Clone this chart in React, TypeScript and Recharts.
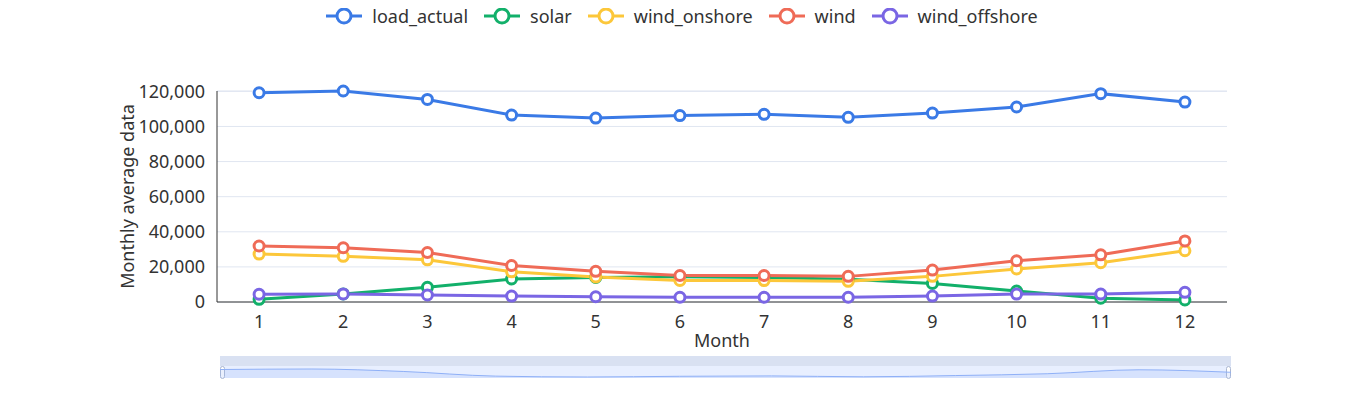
import {
  LineChart,
  Line,
  XAxis,
  YAxis,
  CartesianGrid,
  Legend,
  Brush,
  AreaChart,
  Area,
} from 'recharts'

const MONTHS = [1, 2, 3, 4, 5, 6, 7, 8, 9, 10, 11, 12]
const MONTH_EDGES = [0.5, 1.5, 2.5, 3.5, 4.5, 5.5, 6.5, 7.5, 8.5, 9.5, 10.5, 11.5, 12.5]
const Y_TICKS = [0, 20000, 40000, 60000, 80000, 100000, 120000]

const LOAD_ACTUAL = [119200, 120200, 115400, 106500, 104800, 106200, 106900, 105200, 107600, 111100, 118700, 113900]
const SOLAR = [1500, 4600, 8400, 13100, 14000, 14400, 14000, 13000, 10600, 6200, 2200, 1200]
const WIND_ONSHORE = [27300, 26000, 24000, 17200, 14300, 12300, 12200, 11800, 14600, 18800, 22400, 29200]
const WIND = [31900, 30900, 28200, 20800, 17500, 15100, 15100, 14600, 18200, 23500, 26900, 34800]
const WIND_OFFSHORE = [4400, 4600, 4000, 3400, 3000, 2700, 2700, 2700, 3400, 4500, 4500, 5500]

const SERIES = [
  { key: 'load_actual', color: '#3a7ae6' },
  { key: 'solar', color: '#12b06a' },
  { key: 'wind_onshore', color: '#fcc73a' },
  { key: 'wind', color: '#ef6b57' },
  { key: 'wind_offshore', color: '#7a66e4' },
]
const SERIES_ORDER = SERIES.map((s) => s.key)

const data = MONTHS.map((month, i) => ({
  month,
  load_actual: LOAD_ACTUAL[i],
  solar: SOLAR[i],
  wind_onshore: WIND_ONSHORE[i],
  wind: WIND[i],
  wind_offshore: WIND_OFFSHORE[i],
}))

const TEXT = '#333'
const FONT = 18

function renderLegend(props: any) {
  const payload = [...(props.payload || [])].sort(
    (a: any, b: any) => SERIES_ORDER.indexOf(a.value) - SERIES_ORDER.indexOf(b.value),
  )
  return (
    <div style={{ display: 'flex', justifyContent: 'center', alignItems: 'center', gap: 16, height: 20 }}>
      {payload.map((entry: any) => (
        <div key={entry.value} style={{ display: 'flex', alignItems: 'center' }}>
          <svg width={36} height={18}>
            <line x1={0} y1={9} x2={36} y2={9} stroke={entry.color} strokeWidth={3} />
            <circle cx={18} cy={9} r={7} fill="#fff" stroke={entry.color} strokeWidth={3} />
          </svg>
          <span style={{ marginLeft: 10, fontSize: FONT, color: TEXT, lineHeight: '20px' }}>{entry.value}</span>
        </div>
      ))}
    </div>
  )
}

// slider handle, drawn in the lower half of the brush like the echarts dataZoom
function renderHandle(props: any) {
  const { x, y, width, height } = props
  return (
    <rect x={x + 0.5} y={y + 10.5} width={width - 1} height={height - 10} rx={2} fill="#fff" stroke="#acb8d1" />
  )
}

export default function App() {
  return (
    <div style={{ fontFamily: '"Noto Sans", sans-serif', position: 'relative', width: 1348, height: 388 }}>
      <LineChart width={1348} height={388} data={data} margin={{ top: 83, right: 129, left: 99, bottom: 22 }}>
        <defs>
          <linearGradient id="sliderBg" x1="0" y1="0" x2="0" y2="1">
            <stop offset="0.45" stopColor="#d9e1f2" />
            <stop offset="0.45" stopColor="#e8efff" />
          </linearGradient>
        </defs>
        <CartesianGrid vertical={false} stroke="#e0e6f1" />
        <XAxis
          dataKey="month"
          type="number"
          domain={[0.5, 12.5]}
          allowDataOverflow
          ticks={MONTH_EDGES}
          interval={0}
          height={1}
          tick={false}
          tickSize={5}
          stroke={TEXT}
          axisLine
          tickLine
        />
        <XAxis
          xAxisId="lbl"
          dataKey="month"
          type="number"
          domain={[0.5, 12.5]}
          allowDataOverflow
          ticks={MONTHS}
          interval={0}
          height={49}
          axisLine={false}
          tickLine={false}
          tickSize={0}
          tickMargin={12}
          tick={{ fill: TEXT, fontSize: FONT }}
          label={{ value: 'Month', position: 'insideBottom', offset: 5, fill: TEXT, fontSize: FONT }}
        />
        <YAxis
          width={110}
          domain={[0, 120000]}
          ticks={Y_TICKS}
          interval={0}
          stroke={TEXT}
          axisLine
          tickLine={false}
          tickSize={0}
          tickMargin={12}
          tick={{ fill: TEXT, fontSize: FONT }}
          tickFormatter={(v: number) => v.toLocaleString('en-US')}
          label={{
            value: 'Monthly average data',
            angle: -90,
            position: 'insideLeft',
            offset: 21,
            fill: TEXT,
            fontSize: FONT,
            style: { textAnchor: 'middle' },
          }}
        />
        <Legend
          layout="horizontal"
          verticalAlign="middle"
          align="center"
          content={renderLegend}
          wrapperStyle={{ top: -2, left: 0, width: 1348 }}
        />
        {SERIES.map((s) => (
          <Line
            key={s.key}
            dataKey={s.key}
            name={s.key}
            type="linear"
            stroke={s.color}
            strokeWidth={3}
            dot={{ r: 5, fill: '#fff', stroke: s.color, strokeWidth: 3 }}
            activeDot={false}
            isAnimationActive={false}
          />
        ))}
        <Brush
          dataKey="month"
          x={212}
          y={348}
          width={1011}
          height={22}
          stroke="none"
          fill="url(#sliderBg)"
          travellerWidth={5}
          traveller={renderHandle}
        />
      </LineChart>
      {/* data shadow of the zoom slider: load_actual drawn small over the brush */}
      <div style={{ position: 'absolute', left: 212, top: 348, pointerEvents: 'none' }}>
        <AreaChart width={1011} height={22} data={data} margin={{ top: 0, right: 0, left: 0, bottom: 0 }}>
          <XAxis dataKey="month" hide />
          <YAxis hide domain={[102900, 145200]} allowDataOverflow />
          <Area
            dataKey="load_actual"
            type="monotone"
            stroke="#8fb0f7"
            strokeWidth={1}
            fill="#8fb0f7"
            fillOpacity={0.2}
            dot={false}
            activeDot={false}
            isAnimationActive={false}
          />
        </AreaChart>
      </div>
    </div>
  )
}
